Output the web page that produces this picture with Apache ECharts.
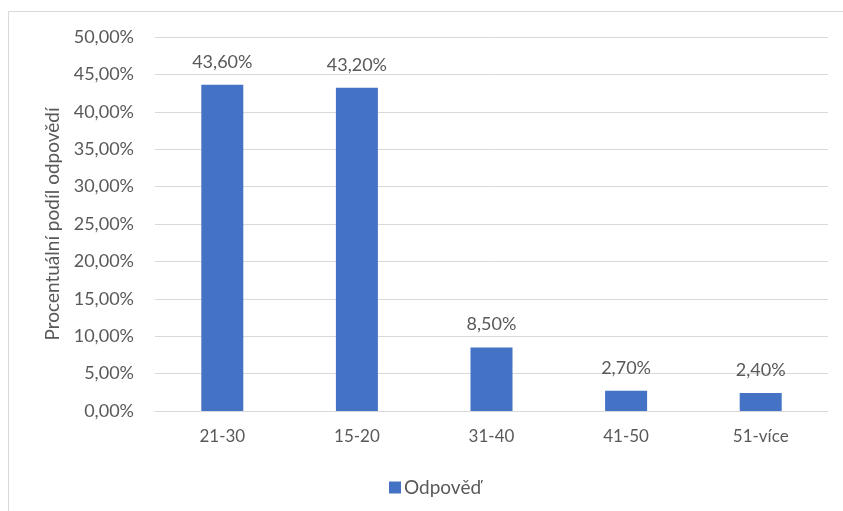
<!DOCTYPE html>
<html><head><meta charset="utf-8">
<script src="https://cdn.jsdelivr.net/npm/echarts@6/dist/echarts.min.js"></script>
<style>html,body{margin:0;padding:0;background:#fff}#c{width:843px;height:511px}</style>
</head><body><div id="c"></div>
<script>
const categories = ['21-30', '15-20', '31-40', '41-50', '51-více'];
const values = [43.6, 43.2, 8.5, 2.7, 2.4];
const seriesName = 'Odpověď';
const yAxisName = 'Procentuální podíl odpovědí';
const fmt = v => v.toFixed(2).replace('.', ',') + '%';
const chart = echarts.init(document.getElementById('c'), null, {renderer: 'canvas'});
const txt = '#595959';
chart.setOption({
  animation: false,
  textStyle: {fontFamily: 'Lato'},
  graphic: [{type: 'rect', shape: {x: 8.5, y: 11.5, width: 900, height: 600}, style: {fill: 'none', stroke: '#D9D9D9', lineWidth: 1}, z: -1}],
  grid: {left: 155, right: 15, top: 37, bottom: 100},
  legend: {top: 473, left: 384, itemWidth: 12, itemHeight: 12, itemGap: 4, icon: 'rect',
    textStyle: {color: txt, fontSize: 19, fontFamily: 'Lato', padding: [0, 0, 0, -2]}, data: [seriesName]},
  xAxis: {type: 'category', data: categories,
    axisLine: {lineStyle: {color: '#D9D9D9'}}, axisTick: {show: false},
    axisLabel: {color: txt, fontSize: 17, margin: 17, fontFamily: 'Lato'}},
  yAxis: {type: 'value', min: 0, max: 50, interval: 5,
    name: yAxisName, nameLocation: 'middle', nameGap: 89, nameRotate: 90,
    nameTextStyle: {color: txt, fontSize: 19, fontFamily: 'Lato'},
    axisLabel: {color: txt, fontSize: 18, margin: 21, formatter: v => fmt(v), fontFamily: 'Lato'},
    splitLine: {lineStyle: {color: '#D9D9D9'}}, axisLine: {show: false}, axisTick: {show: false}},
  series: [{name: seriesName, type: 'bar', data: values, barWidth: 42,
    itemStyle: {color: '#4472C4'},
    label: {show: true, position: 'top', distance: 14, color: txt, fontSize: 18, fontFamily: 'Lato', formatter: p => fmt(p.value)}}]
});
</script></body></html>
